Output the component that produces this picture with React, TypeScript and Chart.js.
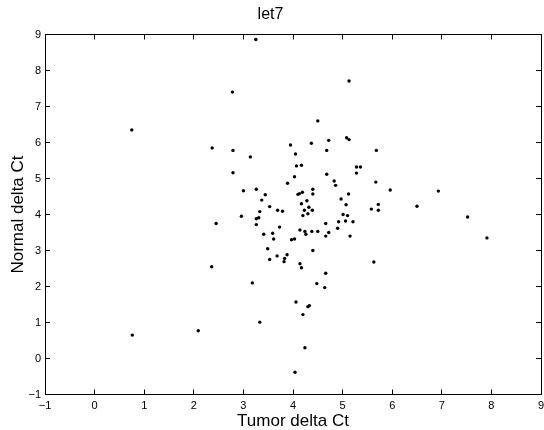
import { useEffect, useRef } from "react";
import { Chart, registerables } from "chart.js";

Chart.register(...registerables);

// let7 delta Ct per sample: tumor (x) vs matched normal (y)
const tumorCt: number[] = [
  3.25, 5.13, 2.78, 4.5, 0.75, 5.08, 5.13, 4.72, 4.37, 3.95,
  2.37, 2.79, 4.68, 5.68, 4.05, 3.14, 4.17, 4.07, 5.28, 5.36,
  2.79, 5.28, 4.68, 4.03, 4.83, 5.67, 3.89, 4.86, 3.26, 4.4,
  5.96, 3.0, 6.93, 4.19, 4.13, 4.1, 4.4, 5.12, 3.44, 4.97,
  3.37, 4.28, 4.17, 5.72, 5.07, 6.5, 3.53, 4.32, 5.58, 3.69,
  4.23, 4.39, 5.72, 3.79, 3.33, 4.3, 5.01, 4.2, 5.1, 2.96,
  7.52, 3.31, 3.26, 5.06, 4.92, 5.21, 2.45, 4.66, 3.26, 3.73,
  4.9, 4.14, 4.24, 4.38, 4.5, 4.72, 3.59, 4.26, 3.41, 4.66,
  5.15, 7.91, 3.61, 4.03, 3.97, 3.49, 4.4, 3.88, 3.68, 3.83,
  3.53, 3.82, 5.63, 4.14, 2.36, 4.17, 4.66, 3.18, 4.48, 4.64,
  4.06, 4.33, 4.3, 4.2, 3.33, 2.09, 0.76, 4.24, 4.04,
];

const normalCt: number[] = [
  8.86, 7.71, 7.4, 6.6, 6.35, 6.13, 6.08, 6.06, 5.98, 5.93,
  5.85, 5.78, 5.78, 5.78, 5.68, 5.6, 5.37, 5.35, 5.32, 5.32,
  5.16, 5.15, 5.12, 5.05, 4.93, 4.9, 4.87, 4.81, 4.7, 4.7,
  4.68, 4.66, 4.65, 4.62, 4.58, 4.56, 4.57, 4.57, 4.55, 4.43,
  4.4, 4.38, 4.3, 4.28, 4.27, 4.23, 4.22, 4.2, 4.15, 4.12,
  4.12, 4.12, 4.12, 4.09, 4.08, 4.02, 4.0, 3.97, 3.97, 3.95,
  3.93, 3.91, 3.88, 3.82, 3.8, 3.8, 3.75, 3.75, 3.72, 3.65,
  3.62, 3.57, 3.53, 3.53, 3.53, 3.5, 3.48, 3.45, 3.45, 3.4,
  3.4, 3.35, 3.32, 3.32, 3.3, 3.05, 3.0, 2.88, 2.85, 2.78,
  2.75, 2.69, 2.68, 2.63, 2.55, 2.52, 2.37, 2.1, 2.08, 1.97,
  1.57, 1.47, 1.44, 1.22, 1.01, 0.77, 0.65, 0.3, -0.38,
];

// Axis ticks (same on both axes)
const xTicks: number[] = [-1, 0, 1, 2, 3, 4, 5, 6, 7, 8, 9];
const yTicks: number[] = [-1, 0, 1, 2, 3, 4, 5, 6, 7, 8, 9];

const FONT = "'Liberation Sans', Arial, Helvetica, sans-serif";
const TICK_IN = -5; // negative tick length: marks point into the plot

const fmt = (v: number) => (v < 0 ? "\u2212" + Math.abs(v) : String(v));

// Shared frame/tick styling; every side of the box is its own scale
const frameGrid = {
  display: true,
  drawOnChartArea: false,
  drawTicks: true,
  tickLength: TICK_IN,
  color: "#000",
  lineWidth: 1,
};
const frameBorder = { display: true, color: "#000", width: 1 };

export default function App() {
  const ref = useRef<HTMLCanvasElement | null>(null);

  useEffect(() => {
    if (!ref.current) return;
    const points = tumorCt.map((x, i) => ({ x, y: normalCt[i] }));
    const setX = (s: any) => {
      s.ticks = xTicks.map((value) => ({ value }));
    };
    const setY = (s: any) => {
      s.ticks = yTicks.map((value) => ({ value }));
    };
    const chart = new Chart(ref.current, {
      type: "scatter",
      data: {
        datasets: [
          {
            data: points,
            xAxisID: "x",
            yAxisID: "y",
            backgroundColor: "#000",
            borderColor: "#000",
            borderWidth: 0,
            pointRadius: 1.7,
            pointHoverRadius: 1.7,
          },
        ],
      },
      options: {
        responsive: false,
        maintainAspectRatio: false,
        animation: false,
        devicePixelRatio: 1,
        layout: { padding: { left: 0, right: 3, top: 0, bottom: 0 } },
        plugins: {
          legend: { display: false },
          tooltip: { enabled: false },
          title: {
            display: true,
            text: "let7",
            fullSize: true,
            color: "#000",
            font: { family: FONT, size: 16, weight: "normal", lineHeight: 1.2 },
            padding: { top: 5, bottom: 10.3 },
          },
        },
        scales: {
          x: {
            type: "linear",
            position: "bottom",
            min: -1,
            max: 9,
            afterFit: (s: any) => {
              s.height = 35.5;
            },
            afterBuildTicks: setX,
            grid: frameGrid,
            border: frameBorder,
            ticks: {
              color: "#000",
              // small padding keeps the end labels from shrinking the plot;
              // the tall line box drops the labels below the axis instead
              padding: -3,
              maxRotation: 0,
              autoSkip: false,
              font: { family: FONT, size: 11, lineHeight: 3.45 },
              callback: (v: any) => fmt(Number(v)),
            },
            title: {
              display: true,
              text: "Tumor delta Ct",
              color: "#000",
              font: { family: FONT, size: 17, lineHeight: 1 },
              padding: { top: 0, bottom: 0 },
            },
          },
          x2: {
            type: "linear",
            position: "top",
            min: -1,
            max: 9,
            afterFit: (s: any) => {
              s.height = 0;
            },
            afterBuildTicks: setX,
            grid: frameGrid,
            border: frameBorder,
            ticks: { display: false },
          },
          y: {
            type: "linear",
            position: "left",
            min: -1,
            max: 9,
            afterFit: (s: any) => {
              s.width = 45;
            },
            afterBuildTicks: setY,
            grid: frameGrid,
            border: frameBorder,
            ticks: {
              color: "#000",
              padding: 9,
              autoSkip: false,
              font: { family: FONT, size: 11 },
              callback: (v: any) => fmt(Number(v)),
            },
            title: {
              display: true,
              text: "Normal delta Ct",
              color: "#000",
              font: { family: FONT, size: 17, lineHeight: 1 },
              padding: { top: 10, bottom: 0 },
            },
          },
          y2: {
            type: "linear",
            position: "right",
            min: -1,
            max: 9,
            afterFit: (s: any) => {
              s.width = 0;
            },
            afterBuildTicks: setY,
            grid: frameGrid,
            border: frameBorder,
            ticks: { display: false },
          },
        },
      },
    });
    return () => chart.destroy();
  }, []);

  return (
    <div style={{ position: "absolute", left: 0, top: 0, width: 544, height: 430, background: "#fff" }}>
      <canvas ref={ref} width={544} height={430} />
    </div>
  );
}
